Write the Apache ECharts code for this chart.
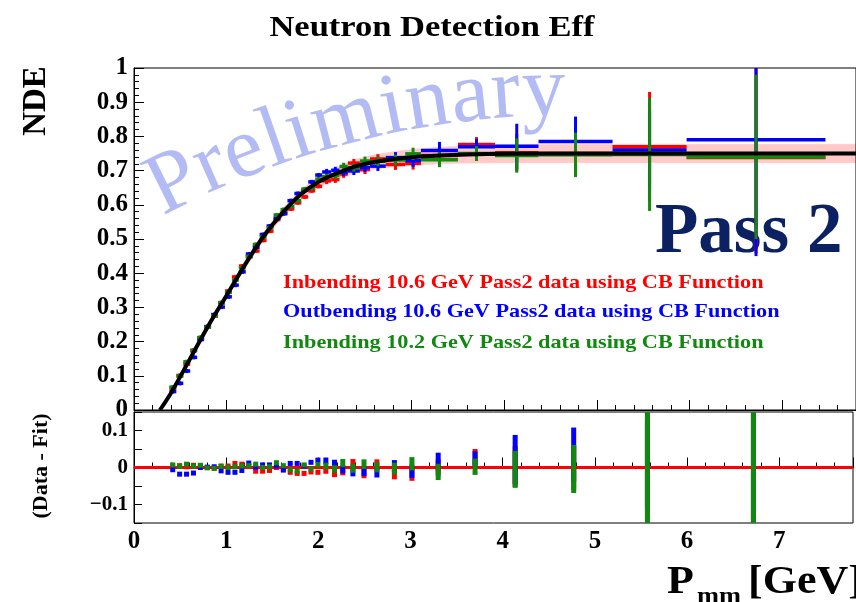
<!DOCTYPE html>
<html><head><meta charset="utf-8">
<script src="https://cdn.jsdelivr.net/npm/echarts@6/dist/echarts.min.js"></script>
<style>html,body{margin:0;padding:0;background:#fff}#c{width:856px;height:602px}</style>
</head><body><div id="c"></div>
<script>
// ---- data ----
const binEdges = [0.3825,0.4575,0.5325,0.6075,0.6825,0.7575,0.8325,0.9075,0.9825,1.0575,1.1325,1.2075,1.2825,1.3575,1.4325,1.5075,1.5825,1.6575,1.7325,1.8075,1.8825,1.9575,2.0325,2.13,2.22,2.31,2.44,2.55,2.72,2.93,3.10,3.50,3.90,4.37,5.17,5.97,7.47];
const effRed   = [0.064,0.101,0.134,0.175,0.211,0.243,0.275,0.314,0.348,0.389,0.421,0.448,0.465,0.496,0.523,0.557,0.577,0.588,0.606,0.623,0.641,0.654,0.670,0.674,0.690,0.722,0.703,0.734,0.718,0.721,0.744,0.776,0.752,0.750,0.770,0.738];
const effBlue  = [0.054,0.078,0.114,0.154,0.206,0.244,0.279,0.301,0.331,0.365,0.404,0.456,0.476,0.513,0.538,0.561,0.574,0.612,0.633,0.643,0.667,0.687,0.696,0.701,0.695,0.699,0.709,0.713,0.738,0.729,0.759,0.770,0.771,0.785,0.760,0.790];
const effGreen = [0.067,0.099,0.141,0.173,0.212,0.242,0.275,0.313,0.344,0.380,0.416,0.449,0.484,0.506,0.533,0.570,0.586,0.595,0.612,0.646,0.649,0.675,0.682,0.686,0.712,0.709,0.728,0.727,0.731,0.749,0.732,0.750,0.744,0.746,0.747,0.740];
const errRed   = [0.006,0.006,0.006,0.006,0.006,0.006,0.006,0.006,0.006,0.006,0.006,0.006,0.006,0.006,0.006,0.006,0.006,0.006,0.006,0.006,0.006,0.006,0.009,0.010,0.011,0.012,0.013,0.014,0.016,0.018,0.022,0.022,0.055,0.060,0.160,0.280];
const errBlue  = [0.006,0.006,0.006,0.006,0.006,0.006,0.006,0.006,0.006,0.006,0.006,0.006,0.006,0.006,0.006,0.006,0.006,0.006,0.006,0.006,0.006,0.006,0.009,0.010,0.011,0.012,0.013,0.014,0.016,0.018,0.025,0.022,0.066,0.073,0.115,0.340];
const errGreen = [0.006,0.006,0.006,0.006,0.006,0.006,0.006,0.006,0.006,0.006,0.006,0.006,0.006,0.006,0.006,0.006,0.006,0.006,0.006,0.006,0.006,0.006,0.009,0.010,0.011,0.012,0.013,0.014,0.016,0.018,0.022,0.022,0.050,0.065,0.165,0.240];
const resRed   = [0.004,0.005,0.002,0.006,0.005,0.000,-0.002,0.004,0.004,0.011,0.009,0.004,-0.010,-0.010,-0.008,0.000,-0.004,-0.013,-0.016,-0.016,-0.012,-0.013,-0.008,-0.016,-0.010,0.011,-0.016,0.008,-0.016,-0.018,0.000,0.028,0.003,0.000,0.020,-0.012];
const resBlue  = [-0.006,-0.018,-0.018,-0.015,0.000,0.001,0.002,-0.009,-0.013,-0.013,-0.008,0.012,0.001,0.007,0.007,0.004,-0.007,0.011,0.011,0.004,0.014,0.020,0.018,0.011,-0.005,-0.012,-0.010,-0.013,0.004,-0.010,0.015,0.022,0.022,0.035,0.010,0.040];
const resGreen = [0.007,0.003,0.009,0.004,0.006,-0.001,-0.002,0.003,0.000,0.002,0.004,0.005,0.009,0.000,0.002,0.013,0.005,-0.006,-0.010,0.007,-0.004,0.008,0.004,-0.004,0.012,-0.002,0.009,0.001,-0.003,0.010,-0.012,0.002,-0.005,-0.004,-0.003,-0.010];
const fitX    = [0.28,0.4,0.6,0.8,1.0,1.2,1.4,1.6,1.8,2.0,2.2,2.4,2.6,2.8,3.0,3.3,3.6,4.0,5.0,6.0,7.0,7.8];
const fitY    = [0,0.05,0.147,0.245,0.335,0.425,0.508,0.575,0.63,0.668,0.693,0.713,0.725,0.733,0.739,0.744,0.747,0.749,0.75,0.75,0.75,0.75];
const fitBand = [0.006,0.007,0.008,0.009,0.010,0.011,0.012,0.013,0.014,0.016,0.018,0.020,0.021,0.022,0.023,0.024,0.025,0.026,0.027,0.027,0.027,0.027];
const xTicks = [0,1,2,3,4,5,6,7];
const legendTexts = ['Inbending 10.6 GeV Pass2 data using CB Function','Outbending 10.6 GeV Pass2 data using CB Function','Inbending 10.2 GeV Pass2 data using CB Function'];
const colors = ['#ff0000','#0000ff','#0f8a0f'];

// ---- build ----
const SERIF = '"Liberation Serif","Times New Roman",serif';
function points(vals, errs){
  return vals.map((v,i)=>{
    const lo = binEdges[i], hi = binEdges[i+1];
    return [(lo+hi)/2, v, errs[i], lo, hi];
  });
}
function clamp(v,a,b){return Math.max(a,Math.min(b,v));}
function renderErr(color){
  return function(params, api){
    const cs = params.coordSys;
    const x = api.value(0), y = api.value(1), e = api.value(2), lo = api.value(3), hi = api.value(4);
    const pL = api.coord([lo,y]), pR = api.coord([hi,y]), pT = api.coord([x,y+e]), pB = api.coord([x,y-e]);
    const x0 = cs.x, x1 = cs.x+cs.width, y0 = cs.y, y1 = cs.y+cs.height;
    const children = [];
    if (pL[1] >= y0 && pL[1] <= y1) {
      children.push({type:'line', shape:{x1:clamp(pL[0],x0,x1), y1:pL[1], x2:clamp(pR[0],x0,x1), y2:pR[1]}, style:{stroke:color, lineWidth:3.5}});
    }
    const ta = clamp(pT[1],y0,y1), tb = clamp(pB[1],y0,y1);
    if (tb - ta > 0.5) children.push({type:'line', shape:{x1:pT[0], y1:ta, x2:pB[0], y2:tb}, style:{stroke:color, lineWidth:3}});
    return {type:'group', children};
  };
}
function renderRes(color){
  return function(params, api){
    const cs = params.coordSys;
    const x = api.value(0), y = api.value(1), e = api.value(2);
    const pT = api.coord([x,y+e]), pB = api.coord([x,y-e]), pC = api.coord([x,y]);
    const y0 = cs.y, y1 = cs.y+cs.height;
    let ta = pT[1], tb = pB[1];
    if (tb - ta < 5) { ta = pC[1]-2.5; tb = pC[1]+2.5; }
    ta = clamp(ta,y0,y1); tb = clamp(tb,y0,y1);
    return {type:'rect', shape:{x:pC[0]-2.5, y:ta, width:5, height:tb-ta}, style:{fill:color}};
  };
}
function renderBand(params, api){
  const cs = params.coordSys;
  const pts = [api.coord([api.value(0), api.value(1)]), api.coord([api.value(3), api.value(4)]),
               api.coord([api.value(3), api.value(5)]), api.coord([api.value(0), api.value(2)])];
  const clipped = echarts.graphic.clipPointsByRect(pts, {x:cs.x, y:cs.y, width:cs.width, height:cs.height});
  return {type:'polygon', shape:{points:clipped}, style:{fill:'#ffc9c9', stroke:'#ffc9c9', lineWidth:0.6}};
}
const bandSegs = [];
for (let i=0;i<fitX.length-1;i++){
  bandSegs.push([fitX[i], fitY[i]-fitBand[i], fitY[i]+fitBand[i], fitX[i+1], fitY[i+1]-fitBand[i+1], fitY[i+1]+fitBand[i+1]]);
}
const effs = [effRed, effBlue, effGreen], errs = [errRed, errBlue, errGreen], ress = [resRed, resBlue, resGreen];
const series = [];
series.push({type:'custom', xAxisIndex:0, yAxisIndex:0, z:3, silent:true, renderItem:renderBand, encode:{x:0,y:1}, data:bandSegs});
for (let k=0;k<3;k++){
  series.push({type:'custom', xAxisIndex:0, yAxisIndex:0, z:5+k, renderItem:renderErr(colors[k]), encode:{x:0,y:1}, data:points(effs[k], errs[k])});
}
series.push({type:'line', xAxisIndex:0, yAxisIndex:0, symbol:'none', z:9, smooth:0.3,
  data: fitX.map((x,i)=>[x, fitY[i]]), lineStyle:{color:'#000', width:4}});
series.push({type:'line', xAxisIndex:1, yAxisIndex:1, symbol:'none', z:4, data:[],
  markLine:{silent:true, symbol:'none', label:{show:false}, lineStyle:{color:'#ff0000', width:3, type:'solid'}, data:[{yAxis:0}]}});
for (let k=0;k<3;k++){
  series.push({type:'custom', xAxisIndex:1, yAxisIndex:1, z:5+k, renderItem:renderRes(colors[k]), encode:{x:0,y:1}, data:points(ress[k], errs[k])});
}

const tickStyle = {lineStyle:{color:'#000', width:1}};
const labelFont = {fontFamily:SERIF, fontWeight:'bold', color:'#000'};
const option = {
  animation:false,
  grid:[
    {left:134, top:68, right:0, height:342, show:true, borderColor:'#000', borderWidth:1, backgroundColor:'transparent', z:4},
    {left:134, top:412, right:0, height:111, show:true, borderColor:'#000', borderWidth:1, backgroundColor:'transparent', z:4}
  ],
  xAxis:[
    {type:'value', gridIndex:0, min:0, max:7.8, interval:1, axisLine:{show:true, lineStyle:{color:'#000'}},
     axisTick:Object.assign({inside:true, length:10}, tickStyle), minorTick:Object.assign({show:true, splitNumber:5, length:5}, tickStyle),
     axisLabel:{show:false}, splitLine:{show:false}},
    {type:'value', gridIndex:1, min:0, max:7.8, interval:1, axisLine:{show:true, lineStyle:{color:'#000'}},
     axisTick:Object.assign({inside:true, length:10}, tickStyle), minorTick:Object.assign({show:true, splitNumber:5, length:5}, tickStyle),
     axisLabel:Object.assign({fontSize:25, margin:6, formatter:(v)=> xTicks.indexOf(v)>=0 ? String(v) : ''}, labelFont), splitLine:{show:false}}
  ],
  yAxis:[
    {type:'value', gridIndex:0, min:0, max:1, interval:0.1, axisLine:{show:true, lineStyle:{color:'#000'}},
     axisTick:Object.assign({inside:true, length:10}, tickStyle), minorTick:Object.assign({show:true, splitNumber:5, length:5}, tickStyle),
     axisLabel:Object.assign({fontSize:25, margin:6, formatter:(v)=> String(Math.round(v*10)/10)}, labelFont), splitLine:{show:false}},
    {type:'value', gridIndex:1, min:-0.15, max:0.15, interval:0.05, axisLine:{show:true, lineStyle:{color:'#000'}},
     axisTick:Object.assign({inside:true, length:8}, tickStyle), minorTick:{show:false},
     axisLabel:Object.assign({fontSize:21, margin:6, formatter:(v)=>{
        const r = Math.round(v*100)/100;
        if (r===0) return '0';
        if (r===0.1) return '0.1';
        if (r===-0.1) return '\u22120.1';
        return '';
     }}, labelFont), splitLine:{show:false}}
  ],
  series: series,
  graphic: []
};

// watermark "Preliminary" along a gentle arc
(function(){
  const txt = 'Preliminary';
  const font = '87px "Liberation Serif"';
  const ctx = document.createElement('canvas').getContext('2d');
  ctx.font = font;
  const L = ctx.measureText(txt).width;
  let x = 172, y = 234, s = 0;
  const a0 = 28, a1 = 0;
  for (const ch of txt){
    const w = ctx.measureText(ch).width;
    const th = (a0 + (a1-a0)*(s + w/2)/L) * Math.PI/180;
    option.graphic.push({type:'text', x:x, y:y, rotation:th, z:1, silent:true,
      style:{text:ch, font:font, fill:'#b3bbf4', verticalAlign:'bottom', align:'left'}});
    x += w*Math.cos(th); y -= w*Math.sin(th); s += w;
  }
})();

option.graphic.push(
  {type:'text', x:432, y:28, z:20, scaleX:1.15, style:{text:'Neutron Detection Eff', font:'bold 30px '+SERIF, fill:'#000', align:'center', verticalAlign:'middle'}},
  {type:'text', x:36, y:101, rotation:Math.PI/2, z:20, style:{text:'NDE', font:'bold 33px '+SERIF, fill:'#000', align:'center', verticalAlign:'middle'}},
  {type:'text', x:41, y:466, rotation:Math.PI/2, z:20, style:{text:'(Data - Fit)', font:'bold 22px '+SERIF, fill:'#000', align:'center', verticalAlign:'middle'}},
  {type:'text', x:667, y:583, z:20, scaleX:1.1, style:{text:'P', font:'bold 40px '+SERIF, fill:'#000', align:'left', verticalAlign:'middle'}},
  {type:'text', x:697, y:597, z:20, scaleX:1.1, style:{text:'mm', font:'bold 24px '+SERIF, fill:'#000', align:'left', verticalAlign:'middle'}},
  {type:'text', x:748, y:583, z:20, scaleX:1.1, style:{text:'[GeV]', font:'bold 40px '+SERIF, fill:'#000', align:'left', verticalAlign:'middle'}},
  {type:'text', x:655, y:234, z:2, style:{text:'Pass 2', font:'bold 71px '+SERIF, fill:'#0b2161', align:'left', verticalAlign:'middle'}}
);
legendTexts.forEach((t,i)=>{
  option.graphic.push({type:'text', x:283, y:[283,312,343][i], z:20, scaleX:1.17, style:{text:t, font:'bold 19px '+SERIF, fill:colors[i], align:'left', verticalAlign:'middle'}});
});

const chart = echarts.init(document.getElementById('c'), null, {renderer:'canvas'});
chart.setOption(option);
</script>
</body></html>
